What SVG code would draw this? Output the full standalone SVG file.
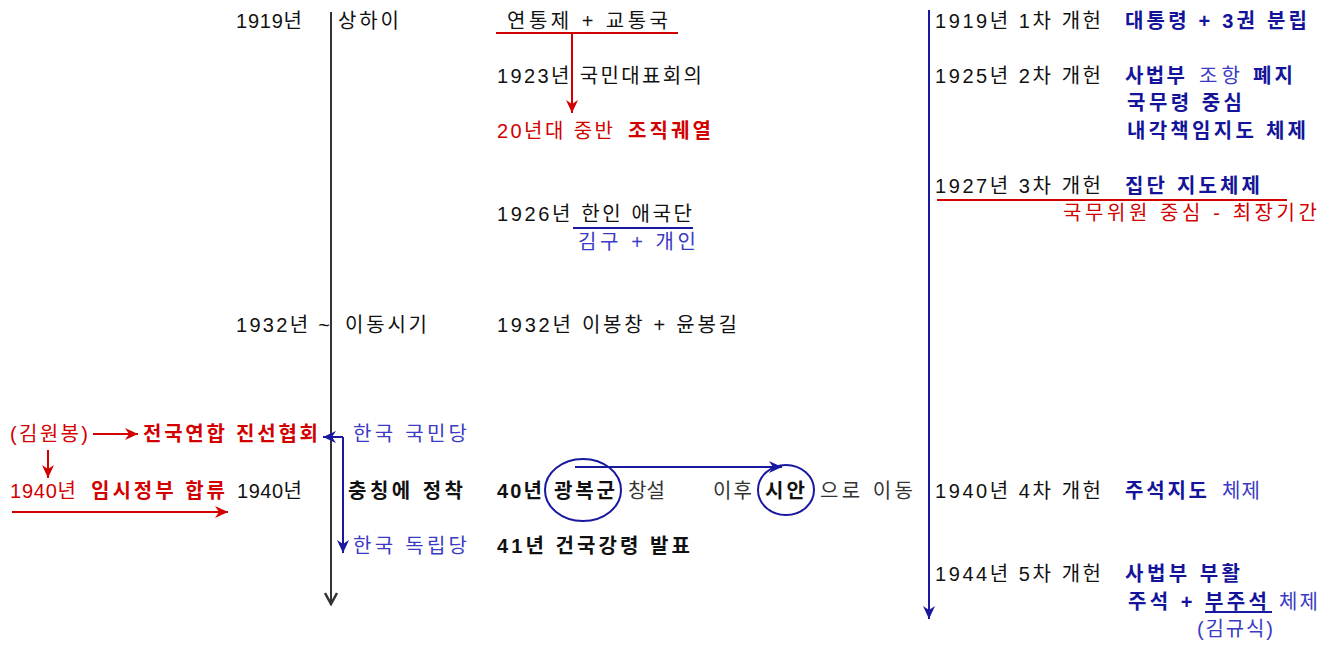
<svg xmlns="http://www.w3.org/2000/svg" width="1332" height="645" viewBox="0 0 1332 645">
<style>
text{font-family:"Liberation Sans","Noto Sans CJK KR",sans-serif;font-size:20px;fill:#111;}
.b{font-weight:bold;}
.red{fill:#d20000;}
.dblue{fill:#14149a;font-weight:bold;}
.lblue{fill:#3a3ac4;}
.gray{fill:#333;}
.ln{fill:none;stroke-width:2;}
.k{stroke:#333;}
.r{stroke:#d20000;}
.u{stroke:#1818a0;}
</style>
<defs>
<marker id="ar" markerUnits="userSpaceOnUse" viewBox="0 0 13 12" refX="13" refY="6" markerWidth="13" markerHeight="12" orient="auto"><path d="M0,0 L13,6 L0,12 L4,6 z" fill="#d20000"/></marker>
<marker id="ab" markerUnits="userSpaceOnUse" viewBox="0 0 13 12" refX="13" refY="6" markerWidth="13" markerHeight="12" orient="auto"><path d="M0,0 L13,6 L0,12 L4,6 z" fill="#1818a0"/></marker>
<marker id="ak" markerUnits="userSpaceOnUse" viewBox="0 0 14 14" refX="12" refY="7" markerWidth="14" markerHeight="14" orient="auto"><path d="M1,1 L12,7 L1,13" fill="none" stroke="#333" stroke-width="2.5"/></marker>
</defs>

<g id="connectors">
<line class="ln k" x1="331" y1="12" x2="331" y2="604" marker-end="url(#ak)"/>
<line class="ln u" x1="929" y1="10" x2="929" y2="619" marker-end="url(#ab)"/>
<line class="ln r" x1="496" y1="33" x2="678" y2="33"/>
<line class="ln r" x1="572" y1="33" x2="572" y2="113" marker-end="url(#ar)"/>
<line class="ln u" x1="573" y1="228" x2="693" y2="228"/>
<line class="ln r" x1="937" y1="200" x2="1287" y2="200"/>
<line class="ln u" x1="1205" y1="612" x2="1272" y2="612"/>
<line class="ln r" x1="93" y1="434" x2="138" y2="434" marker-end="url(#ar)"/>
<line class="ln r" x1="48" y1="450" x2="48" y2="478" marker-end="url(#ar)"/>
<line class="ln r" x1="12" y1="512" x2="228" y2="512" marker-end="url(#ar)"/>
<line class="ln u" x1="343" y1="437" x2="323" y2="437" marker-end="url(#ab)"/>
<line class="ln u" x1="343" y1="437" x2="343" y2="553" marker-end="url(#ab)"/>
<line class="ln u" x1="575" y1="467" x2="782" y2="467" marker-end="url(#ab)"/>
<ellipse class="ln u" cx="583" cy="490" rx="38" ry="31"/>
<ellipse class="ln u" cx="786" cy="490" rx="28" ry="25"/>
</g>

<g id="n-1919"><text x="236" y="28" textLength="66">1919년</text></g>
<g id="n-shanghai"><text x="338" y="28" textLength="61">상하이</text></g>
<g id="n-1932"><text x="236" y="332" textLength="94">1932년 ~</text></g>
<g id="n-idong"><text x="345" y="332" textLength="82">이동시기</text></g>
<g id="n-1940"><text x="237" y="498" textLength="65">1940년</text></g>

<g id="n-yeontong"><text x="507" y="28" textLength="161">연통제 + 교통국</text></g>
<g id="n-1923"><text x="497" y="83" textLength="205">1923년 국민대표회의</text></g>
<g id="n-20s"><text class="red" x="497" y="138" textLength="116">20년대 중반</text><text class="red b" x="628" y="138" textLength="83">조직궤열</text></g>
<g id="n-1926"><text x="497" y="221" textLength="195">1926년 한인 애국단</text><text class="lblue" x="578" y="249" textLength="118">김구 + 개인</text></g>
<g id="n-1932b"><text x="497" y="332" textLength="240">1932년 이봉창 + 윤봉길</text></g>

<g id="n-kimwonbong"><text class="red" x="10" y="441" textLength="78">(김원봉)</text></g>
<g id="n-jinseon"><text class="red b" x="143" y="441" textLength="175">전국연합 진선협회</text></g>
<g id="n-hapryu"><text class="red" x="10" y="498" textLength="66">1940년</text><text class="red b" x="91" y="498" textLength="134">임시정부 합류</text></g>
<g id="n-kukmin"><text class="lblue" x="353" y="441" textLength="114">한국 국민당</text></g>
<g id="n-chongqing"><text class="b" x="348" y="498" textLength="115">충칭에 정착</text></g>
<g id="n-dongnip"><text class="lblue" x="353" y="553" textLength="114">한국 독립당</text></g>

<g id="n-gwangbok"><text class="b" x="497" y="498" textLength="45">40년</text><text class="b" x="554" y="498" textLength="61">광복군</text><text class="gray" x="628" y="498" textLength="37">창설</text></g>
<g id="n-xian"><text class="gray" x="713" y="498" textLength="39">이후</text><text class="b" x="765" y="498" textLength="40">시안</text><text class="gray" x="820" y="498" textLength="93">으로 이동</text></g>
<g id="n-41"><text class="b" x="497" y="553" textLength="193">41년 건국강령 발표</text></g>

<g id="n-1"><text x="935" y="28" textLength="166">1919년 1차 개헌</text><text class="dblue" x="1125" y="28" textLength="182">대통령 + 3권 분립</text></g>
<g id="n-2"><text x="935" y="83" textLength="166">1925년 2차 개헌</text><text class="dblue" x="1125" y="83" textLength="60">사법부</text><text class="lblue" x="1199" y="83" textLength="41">조항</text><text class="dblue" x="1253" y="83" textLength="40">폐지</text><text class="dblue" x="1127" y="110" textLength="115">국무령 중심</text><text class="dblue" x="1127" y="138" textLength="179">내각책임지도 체제</text></g>
<g id="n-3"><text x="935" y="193" textLength="166">1927년 3차 개헌</text><text class="dblue" x="1125" y="193" textLength="135">집단 지도체제</text><text class="red" x="1063" y="220" textLength="254">국무위원 중심 - 최장기간</text></g>
<g id="n-4"><text x="935" y="498" textLength="166">1940년 4차 개헌</text><text class="dblue" x="1125" y="498" textLength="82">주석지도</text><text class="lblue" x="1222" y="498" textLength="38">체제</text></g>
<g id="n-5"><text x="935" y="581" textLength="166">1944년 5차 개헌</text><text class="dblue" x="1125" y="581" textLength="115">사법부 부활</text><text class="dblue" x="1128" y="609" textLength="139">주석 + 부주석</text><text class="lblue" x="1279" y="609" textLength="39">체제</text><text class="lblue" x="1197" y="636" textLength="76">(김규식)</text></g>
</svg>
